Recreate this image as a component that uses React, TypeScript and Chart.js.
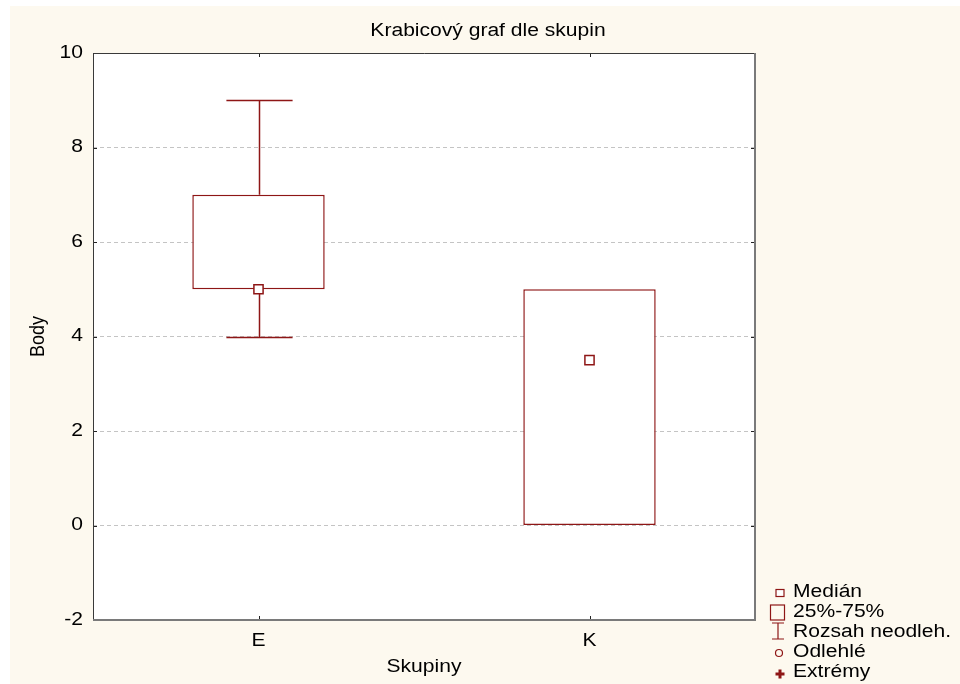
import React, { useEffect, useRef } from "react";
import { Chart, registerables } from "chart.js";

Chart.register(...registerables);

// Groups and their five-number summaries
const groups = ["E", "K"];
const whiskerLow = [4, 0];
const quartile1 = [5, 0];
const medians = [5, 3.5];
const quartile3 = [7, 5];
const whiskerHigh = [9, 5];

const yTicks = [-2, 0, 2, 4, 6, 8, 10];

const chartTitle = "Krabicový graf dle skupin";
const xTitle = "Skupiny";
const yTitle = "Body";
const legendLabels = ["Medián", "25%-75%", "Rozsah neodleh.", "Odlehlé", "Extrémy"];

const RED = "#8e1616";
const CREAM = "#fdf9ef";
const FONT = "'Liberation Sans', Arial, Helvetica, sans-serif";
const TEXT_SIZE = 18;
const TEXT_STRETCH = 1.17; // horizontally widened lettering

function drawText(
  ctx: CanvasRenderingContext2D,
  text: string,
  x: number,
  y: number,
  align: CanvasTextAlign,
  rotate = false
) {
  ctx.save();
  ctx.translate(x, y);
  ctx.scale(TEXT_STRETCH, 1);
  if (rotate) ctx.rotate(-Math.PI / 2);
  ctx.font = `${TEXT_SIZE}px ${FONT}`;
  ctx.fillStyle = "#000";
  ctx.textAlign = align;
  ctx.textBaseline = "middle";
  ctx.fillText(text, 0, 0);
  ctx.restore();
}

const backgroundPlugin = {
  id: "pageBackground",
  beforeDraw(chart: any) {
    const { ctx, width, height, chartArea } = chart;
    ctx.save();
    ctx.fillStyle = "#ffffff";
    ctx.fillRect(0, 0, width, height);
    ctx.fillStyle = CREAM;
    ctx.fillRect(10, 6, width - 10, height - 6);
    ctx.fillStyle = "#ffffff";
    ctx.fillRect(chartArea.left, chartArea.top, chartArea.right - chartArea.left, chartArea.bottom - chartArea.top);
    ctx.restore();
  },
};

// Whiskers: stems outside the box and caps at the non-outlier range ends
const whiskerPlugin = {
  id: "whiskers",
  beforeDatasetsDraw(chart: any) {
    const { ctx, scales } = chart;
    const x = scales.x;
    const y = scales.y;
    const band = x.getPixelForValue(1) - x.getPixelForValue(0);
    const capHalf = band * 0.1;
    ctx.save();
    ctx.strokeStyle = RED;
    ctx.lineWidth = 1.5;
    groups.forEach((_, i) => {
      const cx = Math.round(x.getPixelForValue(i)) + 0.5;
      const segments: [number, number][] = [];
      if (whiskerLow[i] < quartile1[i]) segments.push([whiskerLow[i], quartile1[i]]);
      if (whiskerHigh[i] > quartile3[i]) segments.push([whiskerHigh[i], quartile3[i]]);
      segments.forEach(([end, edge]) => {
        const yEnd = Math.round(y.getPixelForValue(end)) + 0.5;
        const yEdge = y.getPixelForValue(edge);
        ctx.beginPath();
        ctx.moveTo(cx, yEnd);
        ctx.lineTo(cx, yEdge);
        ctx.moveTo(cx - capHalf, yEnd);
        ctx.lineTo(cx + capHalf, yEnd);
        ctx.stroke();
      });
    });
    ctx.restore();
  },
};

// Plot frame with inward tick marks, all lettering, and the symbol legend
const framePlugin = {
  id: "frameAndLegend",
  afterDraw(chart: any) {
    const { ctx, chartArea, scales, width } = chart;
    const { left, right, top, bottom } = chartArea;
    const midX = (left + right) / 2;
    ctx.save();

    // inward ticks
    ctx.strokeStyle = "#222";
    ctx.lineWidth = 1;
    ctx.beginPath();
    yTicks.forEach((v) => {
      const py = Math.round(scales.y.getPixelForValue(v)) + 0.5;
      ctx.moveTo(left, py);
      ctx.lineTo(left + 4, py);
      ctx.moveTo(right - 4, py);
      ctx.lineTo(right, py);
    });
    groups.forEach((_, i) => {
      const px = Math.round(scales.x.getPixelForValue(i)) + 0.5;
      ctx.moveTo(px, top);
      ctx.lineTo(px, top + 4);
      ctx.moveTo(px, bottom);
      ctx.lineTo(px, bottom - 4);
    });
    ctx.stroke();

    // frame: dark top/left, grey shaded right/bottom
    ctx.strokeStyle = "#3a3a3a";
    ctx.lineWidth = 1;
    ctx.beginPath();
    ctx.moveTo(left + 0.5, bottom);
    ctx.lineTo(left + 0.5, top + 0.5);
    ctx.lineTo(right, top + 0.5);
    ctx.stroke();
    ctx.strokeStyle = "#7a7a7a";
    ctx.lineWidth = 2;
    ctx.beginPath();
    ctx.moveTo(right, top);
    ctx.lineTo(right, bottom);
    ctx.lineTo(left, bottom);
    ctx.stroke();

    // lettering
    drawText(ctx, chartTitle, (10 + width) / 2 + 3, 31, "center");
    yTicks.forEach((v) => {
      drawText(ctx, String(v), left - 10, scales.y.getPixelForValue(v), "right");
    });
    groups.forEach((g, i) => {
      drawText(ctx, g, scales.x.getPixelForValue(i), bottom + 21, "center");
    });
    drawText(ctx, xTitle, midX, bottom + 47, "center");
    drawText(ctx, yTitle, left - 55, (top + bottom) / 2, "center", true);

    // legend
    const sx = right + 25;
    const tx = right + 38;
    const row0 = bottom - 28;
    const step = 20;
    legendLabels.forEach((label, i) => {
      drawText(ctx, label, tx, row0 + i * step, "left");
    });

    ctx.strokeStyle = RED;
    ctx.lineWidth = 1.2;
    // median symbol
    let cy = row0 + 1;
    ctx.fillStyle = "#fff";
    ctx.fillRect(sx - 4, cy - 3.5, 8, 7);
    ctx.strokeRect(sx - 4, cy - 3.5, 8, 7);
    // box symbol
    cy = row0 + step;
    ctx.strokeRect(sx - 9.5, cy - 7, 14, 15);
    // whisker symbol
    cy = row0 + 2 * step;
    ctx.beginPath();
    ctx.moveTo(sx - 2, cy - 9);
    ctx.lineTo(sx - 2, cy + 7);
    ctx.moveTo(sx - 8, cy - 9);
    ctx.lineTo(sx + 4, cy - 9);
    ctx.moveTo(sx - 8, cy + 7);
    ctx.lineTo(sx + 4, cy + 7);
    ctx.stroke();
    // outlier symbol
    cy = row0 + 3 * step;
    ctx.beginPath();
    ctx.arc(sx - 1, cy + 1, 3.5, 0, Math.PI * 2);
    ctx.stroke();
    // extreme symbol
    cy = row0 + 4 * step;
    ctx.fillStyle = RED;
    ctx.fillRect(sx - 4.5, cy + 0.5, 9, 3);
    ctx.fillRect(sx - 1.5, cy - 2.5, 3, 9);

    ctx.restore();
  },
};

export default function App() {
  const canvasRef = useRef<HTMLCanvasElement | null>(null);

  useEffect(() => {
    const canvas = canvasRef.current;
    if (!canvas) return;
    const chart = new Chart(canvas, {
      type: "bar",
      data: {
        labels: groups,
        datasets: [
          {
            type: "line",
            label: "Medián",
            data: medians,
            showLine: false,
            pointStyle: "rect",
            pointRadius: 6.5,
            pointBackgroundColor: "#ffffff",
            pointBorderColor: RED,
            pointBorderWidth: 1.5,
            order: 0,
          } as any,
          {
            type: "bar",
            label: "25%-75%",
            data: groups.map((_, i) => [quartile1[i], quartile3[i]]),
            backgroundColor: "#ffffff",
            borderColor: RED,
            borderWidth: 1.5,
            borderSkipped: false,
            categoryPercentage: 1,
            barPercentage: 0.4,
            order: 1,
          } as any,
        ],
      },
      options: {
        responsive: false,
        animation: false,
        events: [],
        layout: { padding: { top: 53, left: 10, right: 205, bottom: 0 } },
        plugins: {
          legend: { display: false },
          tooltip: { enabled: false },
          title: { display: false },
        },
        scales: {
          x: {
            type: "category",
            offset: true,
            grid: { display: false, drawTicks: false },
            border: { display: false },
            ticks: { display: false },
            afterFit: (scale: any) => {
              scale.height = 64;
            },
          },
          y: {
            type: "linear",
            min: -2,
            max: 10,
            afterBuildTicks: (scale: any) => {
              scale.ticks = yTicks.map((v) => ({ value: v }));
            },
            grid: {
              drawTicks: false,
              color: (ctx: any) =>
                ctx.tick && (ctx.tick.value === -2 || ctx.tick.value === 10) ? "rgba(0,0,0,0)" : "#c4c4c4",
              lineWidth: 1,
            },
            border: { display: false, dash: [4, 3] },
            ticks: { display: false },
            afterFit: (scale: any) => {
              scale.width = 83;
            },
          },
        },
      } as any,
      plugins: [backgroundPlugin, whiskerPlugin, framePlugin],
    });
    return () => chart.destroy();
  }, []);

  return (
    <div style={{ position: "absolute", left: 0, top: 0, width: 960, height: 684 }}>
      <canvas ref={canvasRef} width={960} height={684} style={{ display: "block" }} />
    </div>
  );
}
